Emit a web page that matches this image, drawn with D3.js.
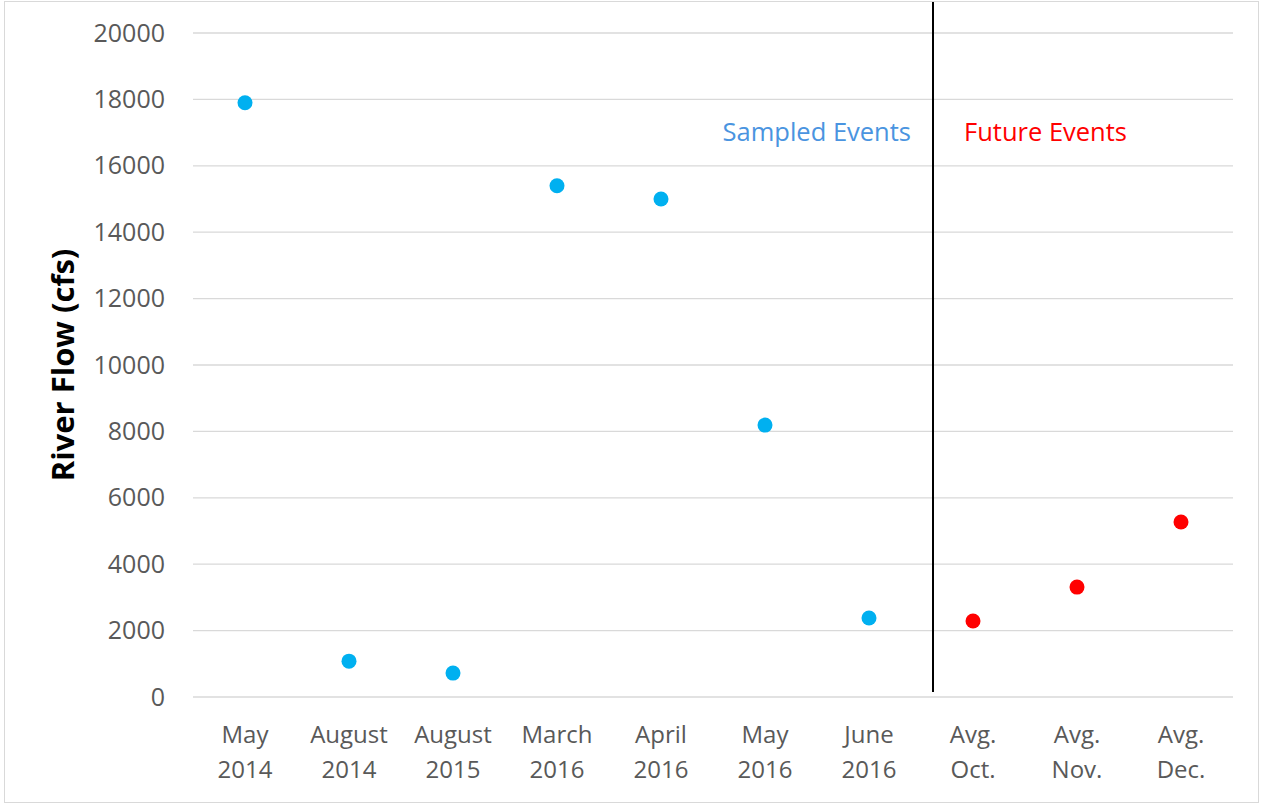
<!DOCTYPE html>
<html>
<head>
<meta charset="utf-8">
<script src="https://cdn.jsdelivr.net/npm/d3@7"></script>
<style>
  body { margin: 0; background: #fff; }
  #chart svg { display: block; }
</style>
</head>
<body>
<div id="chart"></div>
<script>
// categories (two-line labels) and values
const categories = ["May 2014", "August 2014", "August 2015", "March 2016", "April 2016",
                    "May 2016", "June 2016", "Avg. Oct.", "Avg. Nov.", "Avg. Dec."];
const labelTop = ["May", "August", "August", "March", "April", "May", "June", "Avg.", "Avg.", "Avg."];
const labelBottom = ["2014", "2014", "2015", "2016", "2016", "2016", "2016", "Oct.", "Nov.", "Dec."];
const flows = [17900, 1080, 720, 15400, 15000, 8190, 2380, 2290, 3310, 5270];
const isFuture = [false, false, false, false, false, false, false, true, true, true];
const yTicks = [0, 2000, 4000, 6000, 8000, 10000, 12000, 14000, 16000, 18000, 20000];

const width = 1263, height = 804;
const margin = { top: 33, right: 30, bottom: 107, left: 193 };
const innerWidth = width - margin.left - margin.right;
const innerHeight = height - margin.top - margin.bottom;
const font = "'Open Sans', sans-serif";

const svg = d3.select("#chart")
    .append("svg")
    .attr("width", width)
    .attr("height", height);

// outer chart border
svg.append("rect")
    .attr("x", 4.5).attr("y", 1.5)
    .attr("width", 1254).attr("height", 801)
    .attr("fill", "none")
    .attr("stroke", "#d9d9d9");

const g = svg.append("g")
    .attr("transform", `translate(${margin.left}, ${margin.top})`);

const x = d3.scaleBand()
    .domain(categories)
    .range([0, innerWidth]);
const y = d3.scaleLinear()
    .domain([0, 20000])
    .range([innerHeight, 0]);

// gridlines
g.append("g")
    .selectAll("line")
    .data(yTicks)
    .enter().append("line")
    .attr("x1", 0).attr("x2", innerWidth)
    .attr("y1", d => y(d)).attr("y2", d => y(d))
    .attr("stroke", "#d9d9d9")
    .attr("stroke-width", 1.3);

// y axis labels
const yAxis = d3.axisLeft(y).tickValues(yTicks).tickFormat(d3.format("d")).tickSize(0).tickPadding(28);
g.append("g")
    .call(yAxis)
    .call(s => s.select(".domain").remove())
    .selectAll("text")
    .attr("fill", "#595959")
    .style("font-family", font)
    .style("font-size", "25px");

// x axis labels, two lines each
const xAxisG = g.append("g")
    .attr("transform", `translate(0, ${innerHeight})`);
[labelTop, labelBottom].forEach((lines, j) => {
    xAxisG.selectAll(`text.line${j}`)
        .data(categories)
        .enter().append("text")
        .attr("class", `line${j}`)
        .attr("x", d => x(d) + x.bandwidth() / 2)
        .attr("y", 46 + j * 35)
        .attr("text-anchor", "middle")
        .attr("fill", "#595959")
        .style("font-family", font)
        .style("font-size", "24px")
        .text((d, i) => lines[i]);
});

// divider between sampled and future events
const divX = x(categories[7]) + 12;
g.append("line")
    .attr("x1", divX).attr("x2", divX)
    .attr("y1", -31).attr("y2", innerHeight - 5)
    .attr("stroke", "#000")
    .attr("stroke-width", 2);

// annotations
g.append("text")
    .attr("x", divX - 22)
    .attr("y", y(17000) + 8)
    .attr("text-anchor", "end")
    .attr("fill", "#4a94e0")
    .style("font-family", font)
    .style("font-size", "25.5px")
    .text("Sampled Events");
g.append("text")
    .attr("x", divX + 31)
    .attr("y", y(17000) + 8)
    .attr("text-anchor", "start")
    .attr("fill", "#ff0000")
    .style("font-family", font)
    .style("font-size", "25.5px")
    .text("Future Events");

// points
g.append("g")
    .selectAll("circle")
    .data(flows)
    .enter().append("circle")
    .attr("cx", (d, i) => x(categories[i]) + x.bandwidth() / 2)
    .attr("cy", d => y(d))
    .attr("r", 7.5)
    .attr("fill", (d, i) => isFuture[i] ? "#ff0000" : "#00b0f0");

// y axis title
svg.append("text")
    .attr("transform", "translate(74, 365) rotate(-90)")
    .attr("text-anchor", "middle")
    .attr("fill", "#000")
    .style("font-family", font)
    .style("font-weight", "bold")
    .style("font-size", "31px")
    .text("River Flow (cfs)");
</script>
</body>
</html>
